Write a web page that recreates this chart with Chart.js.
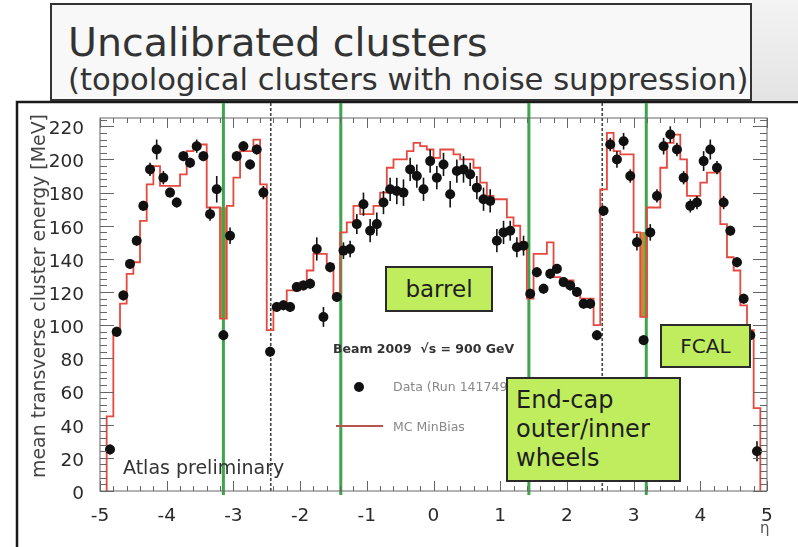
<!DOCTYPE html>
<html lang="en">
<head>
<meta charset="utf-8">
<title>Uncalibrated clusters</title>
<script src="https://cdn.jsdelivr.net/npm/chart.js@4.4.1/dist/chart.umd.min.js"></script>
<style>
  html, body { margin: 0; padding: 0; background: #fff; }
  #page { position: relative; width: 798px; height: 547px; overflow: hidden; font-family: 'DejaVu Sans', sans-serif; }
  #plot { position: absolute; left: 0; top: 0; }
  #corner { position: absolute; left: 752px; top: 0; width: 46px; height: 101px; background: linear-gradient(180deg, #f3f3f3, #e3e3e3); }
  #titleBox { position: absolute; left: 50px; top: 3px; width: 698px; height: 94px; border: 2px solid #333; background: #f8f8f8; color: #333; }
  #titleBox span { position: absolute; left: 16px; line-height: 1; white-space: nowrap; }
  .tag { position: absolute; box-sizing: border-box; border: 2px solid #2a2a2a; background: #c0ed5d; color: #1e1e1e; white-space: nowrap; }
  .centered { display: flex; align-items: center; justify-content: center; }
</style>
</head>
<body>
<div id="page">
  <canvas id="plot" width="798" height="547"></canvas>
  <div id="corner"></div>
  <div id="titleBox">
    <span style="top:18px;font-size:39.5px">Uncalibrated clusters</span>
    <span style="top:60px;font-size:30.6px">(topological clusters with noise suppression)</span>
  </div>
  <div class="tag centered" style="left:385px;top:266px;width:108px;height:46px;font-size:23px">barrel</div>
  <div class="tag centered" style="left:660px;top:324px;width:91px;height:44px;font-size:20px">FCAL</div>
  <div class="tag" style="left:506px;top:377px;width:175px;height:105px;font-size:24px;line-height:29px;padding:7px 0 0 8px">End-cap<br>outer/inner<br>wheels</div>
</div>

<script>
// eta bin centres (0.1 wide bins)
const etaBins = [
  -4.85, -4.75, -4.65, -4.55, -4.45, -4.35, -4.25, -4.15, -4.05, -3.95,
  -3.85, -3.75, -3.65, -3.55, -3.45, -3.35, -3.25, -3.15, -3.05, -2.95,
  -2.85, -2.75, -2.65, -2.55, -2.45, -2.35, -2.25, -2.15, -2.05, -1.95,
  -1.85, -1.75, -1.65, -1.55, -1.45, -1.35, -1.25, -1.15, -1.05, -0.95,
  -0.85, -0.75, -0.65, -0.55, -0.45, -0.35, -0.25, -0.15, -0.05, 0.05,
  0.15, 0.25, 0.35, 0.45, 0.55, 0.65, 0.75, 0.85, 0.95, 1.05,
  1.15, 1.25, 1.35, 1.45, 1.55, 1.65, 1.75, 1.85, 1.95, 2.05,
  2.15, 2.25, 2.35, 2.45, 2.55, 2.65, 2.75, 2.85, 2.95, 3.05,
  3.15, 3.25, 3.35, 3.45, 3.55, 3.65, 3.75, 3.85, 3.95, 4.05,
  4.15, 4.25, 4.35, 4.45, 4.55, 4.65, 4.75, 4.85
];

// data: mean transverse cluster energy per bin [MeV]
const dataMean = [
  25, 96, 118, 137, 151, 172, 194, 206, 189, 180,
  174, 202, 198, 208, 202, 167, 182, 94, 154, 202,
  208, 197, 206, 180, 84, 111, 112, 111, 123, 124,
  125, 146, 105, 135, 117, 145, 146, 161, 173, 157,
  161, 174, 182, 181, 180, 194, 190, 182, 199, 189,
  197, 179, 193, 194, 191, 183, 176, 175, 151, 156,
  157, 147, 148, 119, 132, 122, 131, 134, 126, 124,
  120, 113, 113, 94, 169, 209, 200, 211, 190, 150,
  91, 156, 178, 208, 215, 206, 189, 172, 174, 199,
  206, 195, 174, 157, 138, 116, 94, 24
];

const dataErr = [
  3, 3, 3, 3, 3, 3, 4, 6, 4, 3,
  3, 3, 3, 4, 3, 4, 8, 3, 5, 3,
  3, 3, 3, 4, 3, 3, 3, 3, 3, 3,
  3, 7, 6, 3, 3, 5, 5, 6, 7, 7,
  7, 7, 7, 8, 8, 7, 7, 7, 7, 7,
  7, 8, 7, 8, 7, 7, 7, 7, 7, 7,
  6, 6, 6, 3, 3, 3, 3, 3, 3, 3,
  3, 3, 3, 3, 3, 4, 5, 5, 4, 5,
  3, 5, 4, 5, 5, 4, 4, 4, 4, 6,
  6, 4, 4, 3, 3, 3, 3, 6
];

// MC MinBias histogram, same bins
const mcMean = [
  45, 96, 113, 131, 138, 163, 185, 196, 184, 184,
  184, 191, 205, 209, 209, 171, 171, 104, 172, 189,
  205, 205, 212, 185, 97, 112, 112, 121, 121, 126,
  133, 143, 143, 137, 117, 156, 162, 172, 167, 167,
  172, 180, 195, 200, 200, 205, 210, 208, 206, 201,
  206, 206, 203, 200, 200, 195, 186, 178, 176, 176,
  165, 160, 150, 116, 143, 143, 150, 129, 127, 127,
  120, 116, 116, 100, 182, 216, 205, 203, 203, 156,
  105, 171, 171, 195, 210, 215, 200, 178, 178, 186,
  192, 192, 161, 141, 133, 112, 97, 50
];

// crack bins shaded between neighbouring MC levels
const crackEta = [-3.15, 3.15];
const crackLow = [104, 105];
const crackHigh = [171, 156];

// region boundaries
const greenEta = [-3.15, -1.39, 1.43, 3.19];
const dashEta = [-2.44, 2.53];

const halfBin = 0.05;
const mcLine = [{ x: etaBins[0] - halfBin, y: 0 }, { x: etaBins[0] - halfBin, y: mcMean[0] }];
etaBins.forEach((eta, i) => mcLine.push({ x: eta, y: mcMean[i] }));
const last = etaBins.length - 1;
mcLine.push({ x: etaBins[last] + halfBin, y: mcMean[last] }, { x: etaBins[last] + halfBin, y: 0 });

const dataPoints = etaBins.map((eta, i) => ({ x: eta, y: dataMean[i] }));
const crackBars = crackEta.map((eta, i) => ({ x: eta, y: [crackLow[i], crackHigh[i]] }));

const font = '"DejaVu Sans", sans-serif';

const atlasDecor = {
  id: 'atlasDecor',
  beforeDraw(chart) {
    const ctx = chart.ctx;
    ctx.save();
    ctx.fillStyle = '#fff';
    ctx.fillRect(0, 0, chart.width, chart.height);
    // canvas border
    ctx.strokeStyle = '#1a1a1a';
    ctx.lineWidth = 2.5;
    ctx.beginPath();
    ctx.moveTo(17, chart.height);
    ctx.lineTo(17, 102);
    ctx.lineTo(chart.width, 102);
    ctx.stroke();
    ctx.restore();
  },
  afterDatasetDraw(chart, args) {
    if (args.meta.type !== 'bar') return;
    const ctx = chart.ctx;
    const xs = chart.scales.x;
    const area = chart.chartArea;
    ctx.save();
    ctx.strokeStyle = '#444';
    ctx.lineWidth = 1.6;
    ctx.setLineDash([3, 2]);
    dashEta.forEach(eta => {
      const px = xs.getPixelForValue(eta);
      ctx.beginPath();
      ctx.moveTo(px, 103);
      ctx.lineTo(px, area.bottom + 2);
      ctx.stroke();
    });
    ctx.setLineDash([]);
    ctx.strokeStyle = '#3ea44e';
    ctx.lineWidth = 3;
    greenEta.forEach(eta => {
      const px = xs.getPixelForValue(eta);
      ctx.beginPath();
      ctx.moveTo(px, 103);
      ctx.lineTo(px, area.bottom + 4);
      ctx.stroke();
    });
    ctx.restore();
  },
  afterDatasetsDraw(chart) {
    const ctx = chart.ctx;
    const xs = chart.scales.x;
    const ys = chart.scales.y;
    const { left, right, top, bottom } = chart.chartArea;
    ctx.save();

    // error bars on data
    ctx.strokeStyle = '#111';
    ctx.lineWidth = 1.6;
    chart.getDatasetMeta(2).data.forEach((pt, i) => {
      ctx.beginPath();
      ctx.moveTo(pt.x, ys.getPixelForValue(dataMean[i] + dataErr[i]));
      ctx.lineTo(pt.x, ys.getPixelForValue(dataMean[i] - dataErr[i]));
      ctx.stroke();
    });

    // frame and ticks
    ctx.strokeStyle = '#666';
    ctx.lineWidth = 1;
    ctx.strokeRect(left, top, right - left, bottom - top);
    ctx.beginPath();
    for (let k = -25; k <= 25; k++) {
      const px = Math.round(xs.getPixelForValue(k / 5)) + 0.5;
      const len = k % 5 === 0 ? 10 : 5;
      ctx.moveTo(px, bottom); ctx.lineTo(px, bottom - len);
      ctx.moveTo(px, top); ctx.lineTo(px, top + len);
    }
    for (let k = 0; k * 4 <= ys.max; k++) {
      const py = Math.round(ys.getPixelForValue(k * 4)) + 0.5;
      const len = k % 5 === 0 ? 14 : 7;
      ctx.moveTo(left, py); ctx.lineTo(left + len, py);
      ctx.moveTo(right, py); ctx.lineTo(right - len, py);
    }
    ctx.stroke();

    // y axis title
    ctx.save();
    ctx.translate(40, 296);
    ctx.rotate(-Math.PI / 2);
    ctx.font = '18.9px ' + font;
    ctx.fillStyle = '#444';
    ctx.textAlign = 'center';
    ctx.textBaseline = 'middle';
    ctx.fillText('mean transverse cluster energy [MeV]', 0, 0);
    ctx.restore();

    // legend
    ctx.textBaseline = 'alphabetic';
    ctx.textAlign = 'left';
    ctx.font = 'bold 12.5px ' + font;
    ctx.fillStyle = '#333';
    ctx.fillText('Beam 2009  \u221As = 900 GeV', 333, 353);
    ctx.fillStyle = '#111';
    ctx.beginPath();
    ctx.arc(359, 387, 5, 0, Math.PI * 2);
    ctx.fill();
    ctx.font = '12.5px ' + font;
    ctx.fillStyle = '#888';
    ctx.fillText('Data (Run 141749)', 393, 391);
    ctx.fillText('MC MinBias', 393, 431);
    ctx.strokeStyle = '#b85450';
    ctx.lineWidth = 2;
    ctx.beginPath();
    ctx.moveTo(336, 426);
    ctx.lineTo(383, 426);
    ctx.stroke();

    ctx.font = '19px ' + font;
    ctx.fillStyle = '#333';
    ctx.fillText('Atlas preliminary', 123, 474);

    ctx.font = '15px ' + font;
    ctx.fillStyle = '#555';
    ctx.fillText('\u03B7', 760, 533);
    ctx.restore();
  }
};

new Chart(document.getElementById('plot').getContext('2d'), {
  type: 'scatter',
  data: {
    datasets: [
      {
        type: 'bar',
        label: 'crack',
        data: crackBars,
        backgroundColor: '#c98a3a',
        borderWidth: 0,
        barThickness: 7,
        order: 3
      },
      {
        label: 'MC MinBias',
        data: mcLine,
        showLine: true,
        stepped: 'middle',
        borderColor: '#e5493f',
        borderWidth: 1.8,
        pointRadius: 0,
        fill: false,
        order: 2
      },
      {
        label: 'Data',
        data: dataPoints,
        backgroundColor: '#111',
        borderColor: '#111',
        borderWidth: 0,
        pointRadius: 5,
        order: 1
      }
    ]
  },
  options: {
    responsive: false,
    animation: false,
    layout: { padding: { left: 0, right: 31, top: 118, bottom: 26 } },
    plugins: { legend: { display: false }, tooltip: { enabled: false } },
    scales: {
      x: {
        type: 'linear',
        min: -5,
        max: 5,
        offset: false,
        grid: { display: false },
        border: { display: false },
        ticks: { stepSize: 1, padding: 6, color: '#2a2a2a', font: { family: font, size: 18.5 }, maxRotation: 0 },
        afterFit: scale => { scale.height = 30; }
      },
      y: {
        type: 'linear',
        min: 0,
        max: 225,
        grid: { display: false },
        border: { display: false },
        ticks: { stepSize: 20, includeBounds: false, padding: 8, labelOffset: 3, color: '#2a2a2a', font: { family: font, size: 18.5 } },
        afterFit: scale => { scale.width = 100; }
      }
    }
  },
  plugins: [atlasDecor]
});
</script>
</body>
</html>
